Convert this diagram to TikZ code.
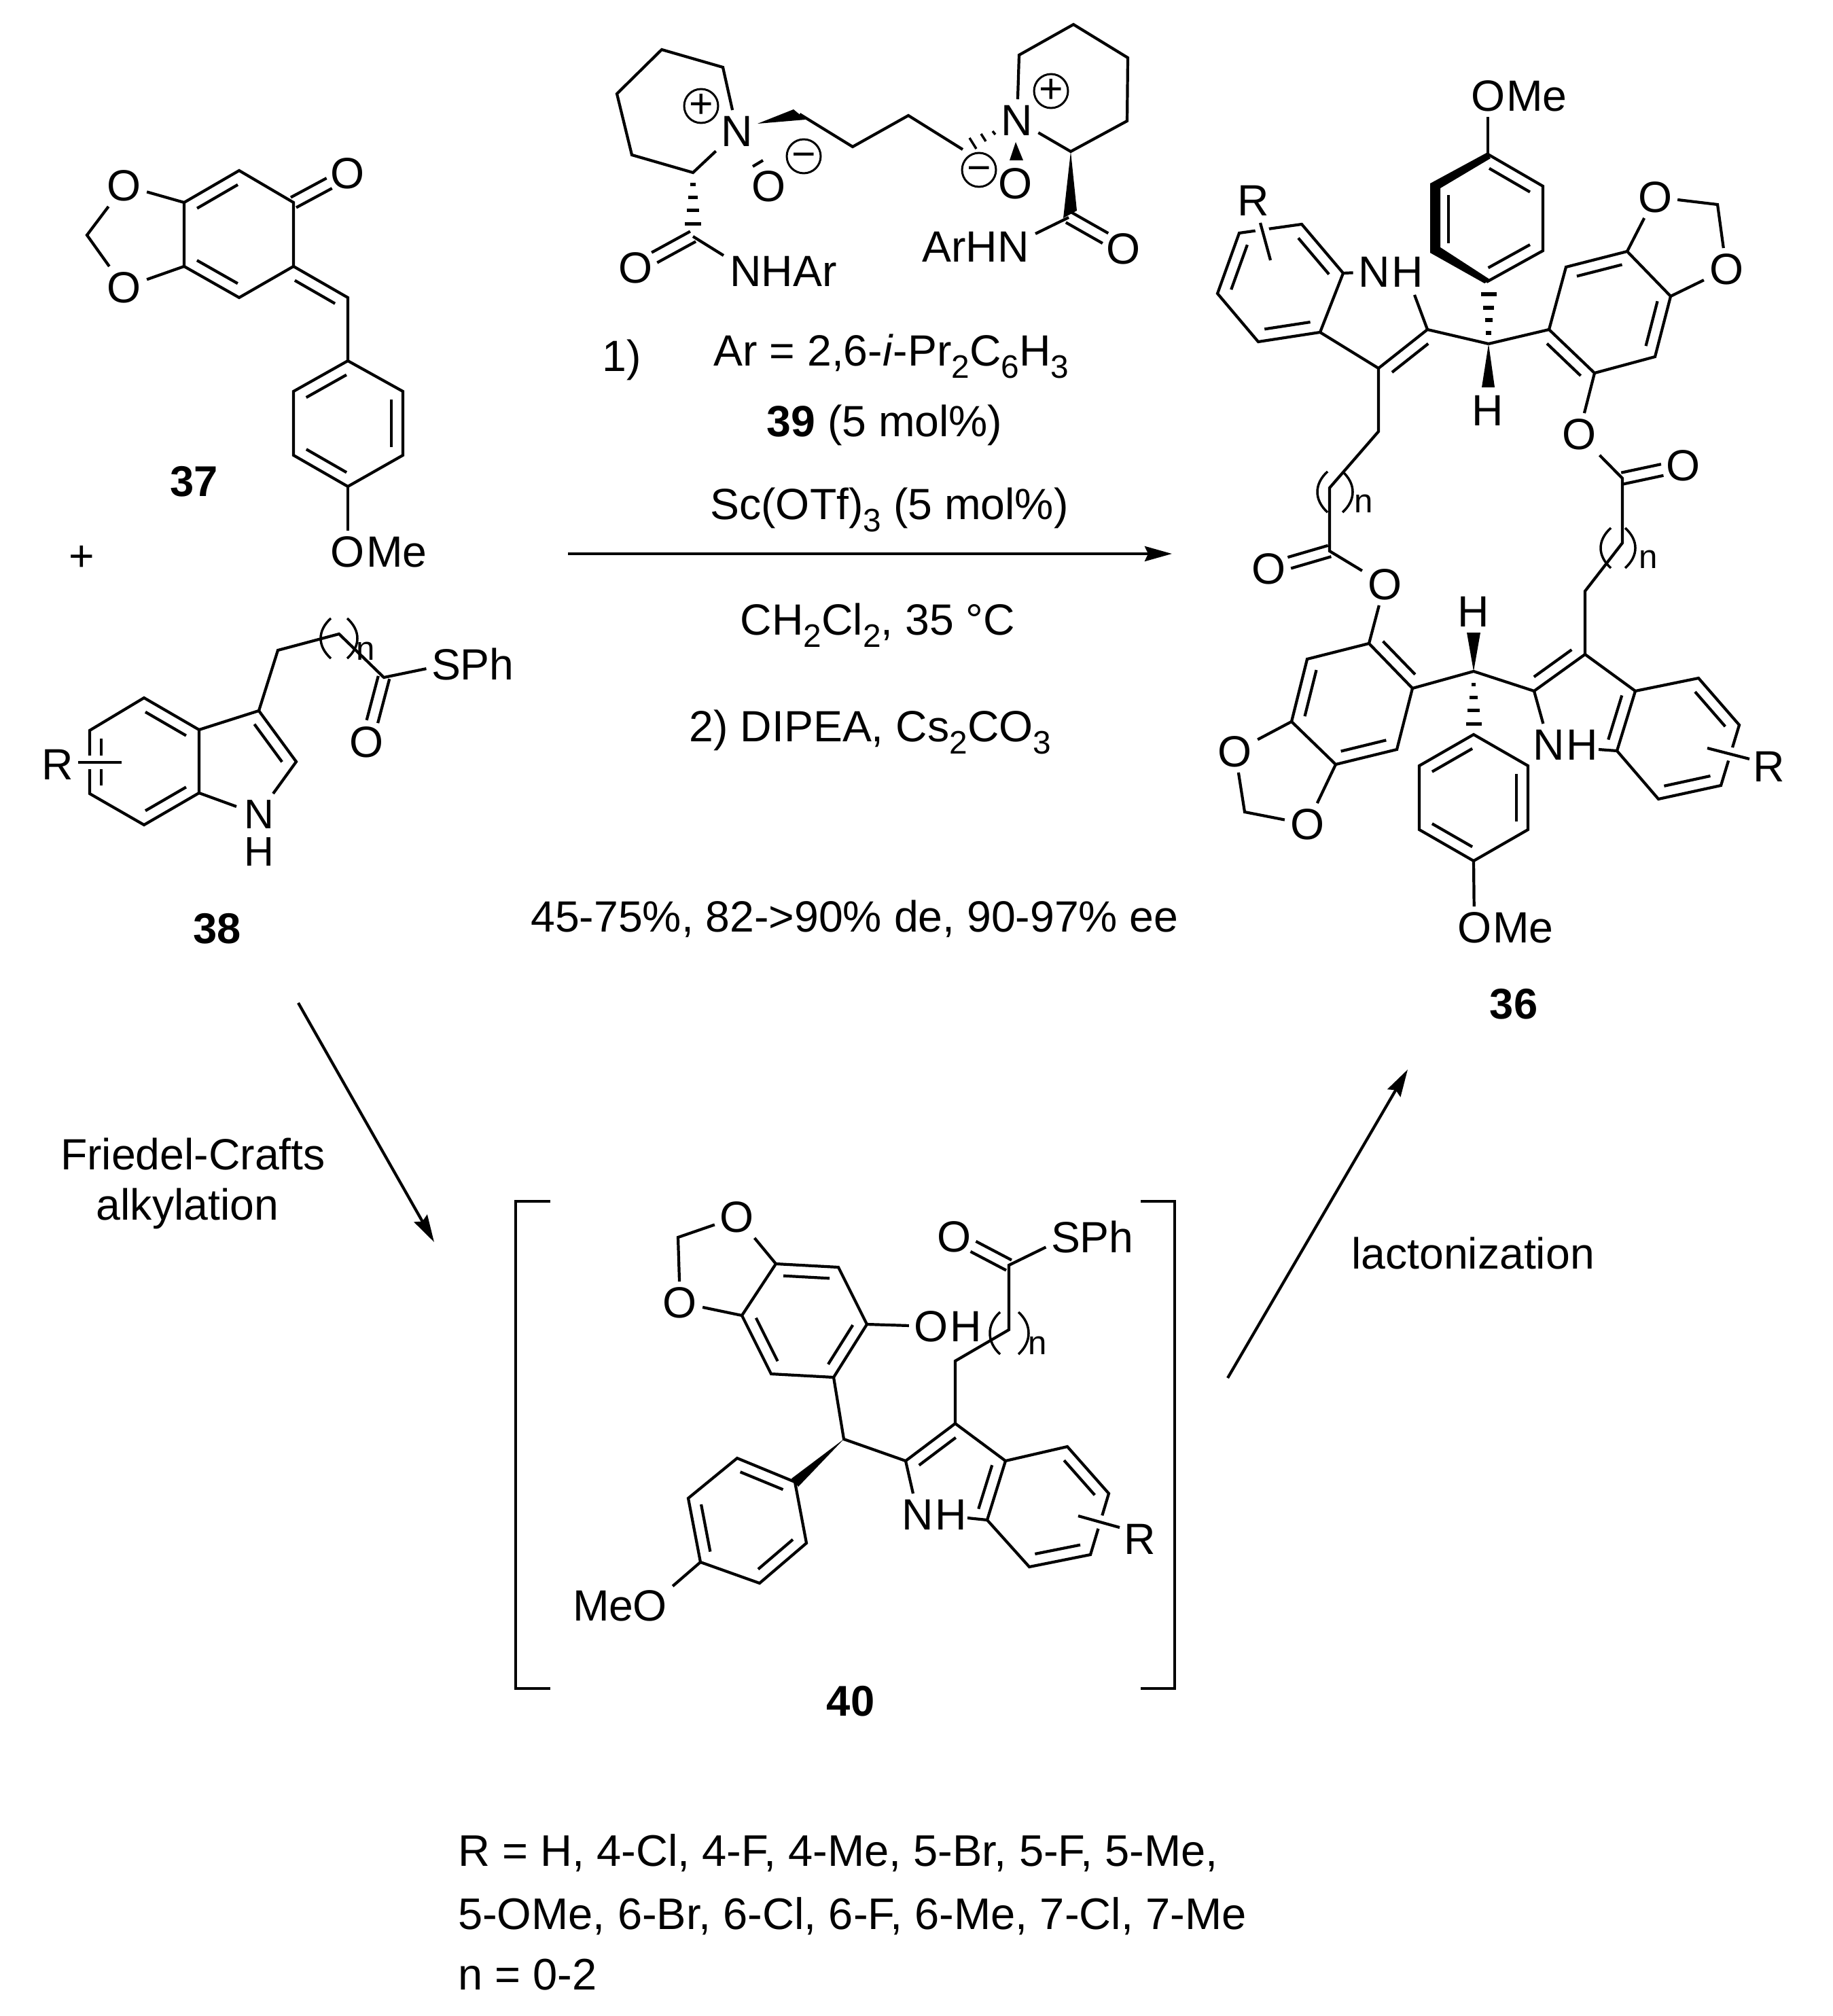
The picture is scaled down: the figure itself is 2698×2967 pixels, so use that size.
\documentclass[tikz,border=0pt]{standalone}
\usepackage{fontspec}
\setmainfont{Liberation Sans}
\usetikzlibrary{calc,arrows.meta}

\newcommand{\low}[1]{\raisebox{-.28em}{\fontsize{13.6}{13.6}\selectfont #1}}
% inner line of a double bond, on the left of #1 -> #2
\newcommand{\dbl}[2]{\draw ($(#1)!.13!(#2)!.17cm!90:(#2)$) -- ($(#2)!.13!(#1)!.17cm!-90:(#1)$);}
% carbonyl, both lines set off from the axis
\newcommand{\dbc}[2]{\draw[shorten >=.31cm] ($(#1)!.085cm!90:(#2)$) -- ($(#2)!.085cm!-90:(#1)$);
  \draw[shorten >=.31cm] ($(#1)!.085cm!-90:(#2)$) -- ($(#2)!.085cm!90:(#1)$);}
% the ( )n round a chain
\newcommand{\nbrack}[4]{\draw[paren] (#1+15,#3) .. controls (#1-5,#3+18) and (#1-5,#4-18) .. (#1+15,#4);
  \draw[paren] (#2-15,#3) .. controls (#2+5,#3+18) and (#2+5,#4-18) .. (#2-15,#4);}

\tikzset{
  atom/.style={inner sep=.06cm,text height=13pt,text depth=0pt},
  tail/.style={inner sep=0pt,anchor=west,text height=13pt,text depth=0pt},
  lab/.style={inner sep=0pt,text height=13pt,text depth=0pt},
  cond/.style={lab},
  listline/.style={lab,anchor=west,font=\fontsize{18.5}{22}\selectfont},
  bold/.style={lab,font=\fontsize{18}{22}\selectfont\bfseries},
  idx/.style={inner sep=0pt,font=\fontsize{14}{14}\selectfont},
  charge/.style={circle,draw,line width=.03cm,inner sep=0pt,minimum size=.46cm,text height=10pt,text depth=0pt,font=\fontsize{17.3}{20}\selectfont},
  paren/.style={line width=.035cm},
  hatch/.style={line width=.05cm},
  cross/.style={preaction={draw,white,line width=.2cm}},
  rxn/.style={-{Stealth[length=.4cm,width=.22cm,inset=.05cm]},line width=.042cm},
}

\begin{document}
\begin{tikzpicture}[x=.01cm,y=-.01cm,line width=.042cm,font=\fontsize{18.3}{22}\selectfont]
\useasboundingbox (0,0) rectangle (2698,2967);

% 37
\foreach \n/\x/\y in {p1/271/298,p2/352/251,p3/432/298,p4/432/392,p5/352/438,p6/271/392,p7/128/346,p8/512/438,
  p9/512/531,p10/593/576,p11/593/670,p12/512/716,p13/432/670,p14/432/576}
  \coordinate (\n) at (\x,\y);
\node[atom] (po1) at (183,273) {O};
\node[atom] (po2) at (183,423) {O};
\node[atom] (po3) at (512,255) {O};
\node[atom] (po4) at (512,812) {O};
\node[tail] (pme) at (537,812) {Me};
\draw (p1) -- (p2) -- (p3) -- (p4) -- (p5) -- (p6) -- cycle;
\draw (p4) -- (p8) -- (p9) -- (p10) -- (p11) -- (p12) -- (p13) -- (p14) -- (p9);
\draw (p1) -- (po1) -- (p7) -- (po2) -- (p6);
\draw (p12) -- (po4);
\dbl{p2}{p1} \dbl{p6}{p5} \dbl{p8}{p4} \dbl{p9}{p14} \dbl{p11}{p10} \dbl{p13}{p12}
\dbc{p3}{po3}
\node[bold] (n37) at (286,708) {37};
\node[lab] (plus) at (120,818) {+};

% 38
\foreach \n/\x/\y in {q1/293/1074,q2/212/1027,q3/132/1075,q4/132/1168,q5/212/1214,q6/293/1167,q7/381/1046,
  q8/436/1121,q9/409/957,q10/499/933,q11/565/997,q12/115/1122,q13/179/1122,q14/402/1168,q15/348/1187}
  \coordinate (\n) at (\x,\y);
\node[inner sep=0pt,align=center,font=\fontsize{17.3}{15.6}\selectfont] (qnh) at (381,1226) {N\\H};
\node[atom] (qo) at (540,1092) {O};
\node[atom] (qs) at (657,978) {S};
\node[tail] (qph) at (675,978) {Ph};
\node[lab] (qr) at (85,1125) {R};
\draw (q1) -- (q2) -- (q3) -- (q4) -- (q5) -- (q6) -- cycle;
\draw (q1) -- (q7) -- (q8) -- (q14);
\draw (q6) -- (q15);
\draw (q7) -- (q9) -- (q10) -- (q11) -- (qs);
\dbl{q1}{q2} \dbl{q3}{q4} \dbl{q5}{q6} \dbl{q8}{q7}
\dbc{q11}{qo}
\draw[cross] (q12) -- (q13);
\nbrack{472}{526}{910}{969}
\node[idx] (qi) at (538,958) {n};
\node[bold] (n38) at (320,1366) {38};

% 39
\foreach \n/\x/\y in {c1/1064/99,c2/974/73,c3/908/138,c4/930/228,c5/1020/254,c6/1177/168,c7/1255/216,c8/1337/170,
  c9/1417/220,c10/1500/81,c11/1580/36,c12/1660/85,c13/1659/178,c14/1576/223,c15/1573/320,c16/1524/344,
  c17/1065/376,c18/1020/348}
  \coordinate (\n) at (\x,\y);
\node[atom] (cn1) at (1085,193) {N};
\node[atom] (cn2) at (1497,177) {N};
\node[lab] (co1) at (1132,274) {O};
\node[lab] (co2) at (1495,270) {O};
\node[atom] (co3) at (936,394) {O};
\node[atom] (co4) at (1654,366) {O};
\node[charge] (cp1) at (1032,156) {+};
\node[charge] (cp2) at (1547,134) {+};
\node[charge] (cm1) at (1183,230) {−};
\node[charge] (cm2) at (1441,250) {−};
\node[lab] (cna) at (1153,399) {NHAr};
\node[lab] (can) at (1436,363) {ArHN};
\draw (cn1) -- (c1) -- (c2) -- (c3) -- (c4) -- (c5) -- (cn1);
\draw (cn2) -- (c10) -- (c11) -- (c12) -- (c13) -- (c14) -- (cn2);
\draw (c6) -- (c7) -- (c8) -- (c9);
\fill (1115,182) -- (1168,161) -- (1186,176) -- cycle;
\fill (1495,209) -- (1506,236) -- (1486,236) -- cycle;
\fill (c14) -- (1585,310) -- (1565,321) -- cycle;
\draw (1108,245) -- (1123,236);
\draw[paren] (1427,203) -- (1437,219) (1444,197) -- (1451,208) (1461,193) -- (1465,198);
\foreach \yy/\w in {272/4,291/7,310/9,330/12}
  \draw[hatch] (1020-\w,\yy) -- (1020+\w,\yy);
\draw (c15) -- (c16);
\draw (c18) -- (c17);
\dbc{c15}{co4}
\dbc{c18}{co3}

% conditions
\coordinate (ar1) at (836,815);
\coordinate (ar2) at (1725,815);
\draw[rxn] (ar1) -- (ar2);
\node[cond] (t1) at (915,524) {1)};
\node[cond] (t2) at (1312,516) {Ar = 2,6-\textit{i}-Pr\low{2}C\low{6}H\low{3}};
\node[cond] (t3) at (1302,620) {\textbf{39} (5 mol\%)};
\node[cond] (t4) at (1309,742) {Sc(OTf)\low{3} (5 mol\%)};
\node[cond] (t5) at (1292,912) {CH\low{2}Cl\low{2}, 35 °C};
\node[cond] (t6) at (1281,1069) {2) DIPEA, Cs\low{2}CO\low{3}};
\node[cond] (t7) at (1258,1349) {45-75\%, 82->90\% de, 90-97\% ee};

% 36
\foreach \n/\x/\y in {r1/2190/227,r2/2112/272,r3/2112/371,r4/2188/415,r5/2271/369,r6/2271/274,r7/2191/506,
  r8/2101/485,r9/2029/542,r10/1943/489,r11/1852/503,r12/1792/432,r13/1824/343,r14/1916/330,r15/1977/402,
  r16/2082/434,r17/2029/635,r18/1957/718,r19/1957/811,r20/2015/947,r21/2079/1013,r22/2056/1103,r23/1966/1125,
  r24/1901/1062,r25/1924/970,r28/1832/1195,r29/2169/988,r30/2258/1017,r31/2333/963,r32/2407/1017,r34/2353/1103,
  r35/2500/998,r36/2560/1067,r37/2533/1156,r38/2441/1176,r39/2380/1105,r40/2333/870,r41/2388/799,r42/2388/704,
  r26/2347/549,r27/2280/485,r43/2305/393,r44/2395/370,r45/2459/436,r46/2436/525,r47/2528/301,
  r48/2169/1081,r49/2249/1127,r50/2249/1221,r51/2169/1267,r52/2089/1221,r53/2089/1127,
  r60/1855/328,r61/1870/383,r62/2513/1101,r63/2575/1117}
  \coordinate (\n) at (\x,\y);
\node[atom] (ro9) at (2190,141) {O};
\node[tail] (rme1) at (2215,141) {Me};
\node[atom] (ro10) at (2170,1365) {O};
\node[tail] (rme2) at (2195,1365) {Me};
\node[atom] (rn1) at (2023,400) {N};
\node[tail] (rh1) at (2046,400) {H};
\node[atom] (rn2) at (2280,1096) {N};
\node[tail] (rh2) at (2303,1096) {H};
\node[atom] (ro1) at (1868,837) {O};
\node[atom] (ro2) at (2038,860) {O};
\node[atom] (ro3) at (1818,1106) {O};
\node[atom] (ro4) at (1924,1213) {O};
\node[atom] (ro5) at (2477,685) {O};
\node[atom] (ro6) at (2324,639) {O};
\node[atom] (ro7) at (2436,290) {O};
\node[atom] (ro8) at (2541,396) {O};
\node[lab] (rh3) at (2190,604) {H};
\node[lab] (rh4) at (2169,900) {H};
\node[lab] (rr1) at (1845,295) {R};
\node[lab] (rr2) at (2604,1128) {R};
\fill (2188,225) -- (2105,270) -- (2105,372) -- (2185,417) -- (2194,412) -- (2120,364) -- (2120,277) -- (2194,233) -- cycle;
\draw (r1) -- (r6) -- (r5) -- (r4);
\draw (ro9) -- (r1);
\draw (2132,287) -- (2132,358);
\dbl{r6}{r1} \dbl{r4}{r5}
\foreach \yy/\w in {433/11.5,453/8,471/5.5,490/4}
  \draw[hatch] (2191-\w,\yy) -- (2191+\w,\yy);
\fill (r7) -- (2200,570) -- (2181,570) -- cycle;
\draw (r7) -- (r8) -- (r9) -- (r10) -- (r11) -- (r12) -- (r13) -- (r14) -- (r15) -- (r10);
\draw (r15) -- (rn1);
\draw (r8) -- (r16);
\draw (r9) -- (r17) -- (r18) -- (r19) -- (ro2) -- (r20);
\dbl{r8}{r9} \dbl{r11}{r10} \dbl{r13}{r12} \dbl{r15}{r14}
\draw[cross] (r60) -- (r61);
\nbrack{1939}{1991}{694}{754}
\node[idx] (ri1) at (2007,741) {n};
\dbc{r19}{ro1}
\draw (r20) -- (r21) -- (r22) -- (r23) -- (r24) -- (r25) -- cycle;
\draw (r24) -- (ro3) -- (r28) -- (ro4) -- (r23);
\dbl{r20}{r21} \dbl{r23}{r22} \dbl{r25}{r24}
\draw (r21) -- (r29) -- (r30) -- (r31) -- (r32);
\fill (r29) -- (2179,931) -- (2159,931) -- cycle;
\foreach \yy/\w in {1007/3,1026/6,1045/9,1065/11.5}
  \draw[hatch] (2169-\w,\yy) -- (2169+\w,\yy);
\draw (r30) -- (rn2);
\dbl{r30}{r31}
\draw (r32) -- (r35) -- (r36) -- (r37) -- (r38) -- (r39) -- (r32);
\draw (r39) -- (r34);
\dbl{r39}{r32} \dbl{r36}{r35} \dbl{r38}{r37}
\draw[cross] (r62) -- (r63);
\draw (r31) -- (r40) -- (r41) -- (r42) -- (ro6) -- (r26);
\nbrack{2356}{2407}{777}{836}
\node[idx] (ri2) at (2426,823) {n};
\dbc{r42}{ro5}
\draw (r26) -- (r27) -- (r43) -- (r44) -- (r45) -- (r46) -- cycle;
\draw (r7) -- (r27);
\draw (r44) -- (ro7) -- (r47) -- (ro8) -- (r45);
\dbl{r26}{r27} \dbl{r44}{r43} \dbl{r46}{r45}
\draw (r48) -- (r49) -- (r50) -- (r51) -- (r52) -- (r53) -- cycle;
\draw (r51) -- (ro10);
\dbl{r48}{r53} \dbl{r50}{r49} \dbl{r52}{r51}
\node[bold] (n36) at (2228,1477) {36};

% arrows
\coordinate (ar3) at (439,1476);
\coordinate (ar4) at (639,1828);
\coordinate (ar5) at (1807,2028);
\coordinate (ar6) at (2072,1574);
\draw[rxn] (ar3) -- (ar4);
\draw[rxn] (ar5) -- (ar6);
\node[cond] (t8) at (284,1699) {Friedel-Crafts};
\node[cond] (t9) at (276,1773) {alkylation};
\node[cond] (t10) at (2168,1845) {lactonization};

% 40
\foreach \n/\x/\y in {s1/1142/1860,s2/1234/1865,s3/1276/1949,s4/1227/2027,s5/1135/2022,s6/1092/1936,s7/998/1821,
  s8/1242/2118,s9/1333/2150,s10/1406/2095,s11/1480/2150,s12/1406/2003,s13/1485/1957,s14/1485/1862,s16/1424/2234,
  s18/1571/2129,s19/1632/2198,s20/1605/2288,s21/1515/2306,s22/1453/2237,s23/1170/2181,s24/1085/2146,s25/1013/2205,
  s26/1031/2299,s27/1118/2330,s28/1187/2271,s30/1587/2231,s31/1648/2248,
  b1/810/1768,b2/759/1768,b3/759/2485,b4/810/2485,b5/1679/1768,b6/1729/1768,b7/1729/2485,b8/1679/2485}
  \coordinate (\n) at (\x,\y);
\node[atom] (so1) at (1085,1791) {O};
\node[atom] (so2) at (1001,1917) {O};
\node[atom] (so3) at (1371,1952) {O};
\node[tail] (sh) at (1396,1952) {H};
\node[atom] (so4) at (1405,1820) {O};
\node[atom] (ss) at (1569,1821) {S};
\node[tail] (sph) at (1587,1821) {Ph};
\node[atom] (sn) at (1351,2229) {N};
\node[tail] (sh2) at (1374,2229) {H};
\node[lab] (sr) at (1678,2265) {R};
\node[atom] (so5) at (957,2363) {O};
\node[lab] (sme) at (888,2363) {Me};
\draw (b1) -- (b2) -- (b3) -- (b4);
\draw (b5) -- (b6) -- (b7) -- (b8);
\draw (s1) -- (s2) -- (s3) -- (s4) -- (s5) -- (s6) -- cycle;
\draw (s1) -- (so1) -- (s7) -- (so2) -- (s6);
\dbl{s2}{s1} \dbl{s4}{s3} \dbl{s6}{s5}
\draw (s3) -- (so3);
\draw (s4) -- (s8) -- (s9) -- (s10) -- (s11);
\draw (s9) -- (sn);
\dbl{s10}{s9}
\draw (s10) -- (s12) -- (s13) -- (s14) -- (ss);
\dbc{s14}{so4}
\nbrack{1457}{1514}{1931}{1993}
\node[idx] (si) at (1527,1980) {n};
\draw (s11) -- (s18) -- (s19) -- (s20) -- (s21) -- (s22) -- (s11);
\draw (s22) -- (s16);
\dbl{s22}{s11} \dbl{s19}{s18} \dbl{s21}{s20}
\draw[cross] (s30) -- (s31);
\fill (s8) -- (1175,2188) -- (1165,2176) -- cycle;
\draw (s23) -- (s24) -- (s25) -- (s26) -- (s27) -- (s28) -- cycle;
\draw (s26) -- (so5);
\dbl{s23}{s24} \dbl{s25}{s26} \dbl{s27}{s28}
\node[bold] (n40) at (1252,2503) {40};

% R list
\node[listline] (l1) at (672,2724) {R = H, 4-Cl, 4-F, 4-Me, 5-Br, 5-F, 5-Me,};
\node[listline] (l2) at (672,2817) {5-OMe, 6-Br, 6-Cl, 6-F, 6-Me, 7-Cl, 7-Me};
\node[listline] (l3) at (672,2906) {n = 0-2};
\end{tikzpicture}
\end{document}
